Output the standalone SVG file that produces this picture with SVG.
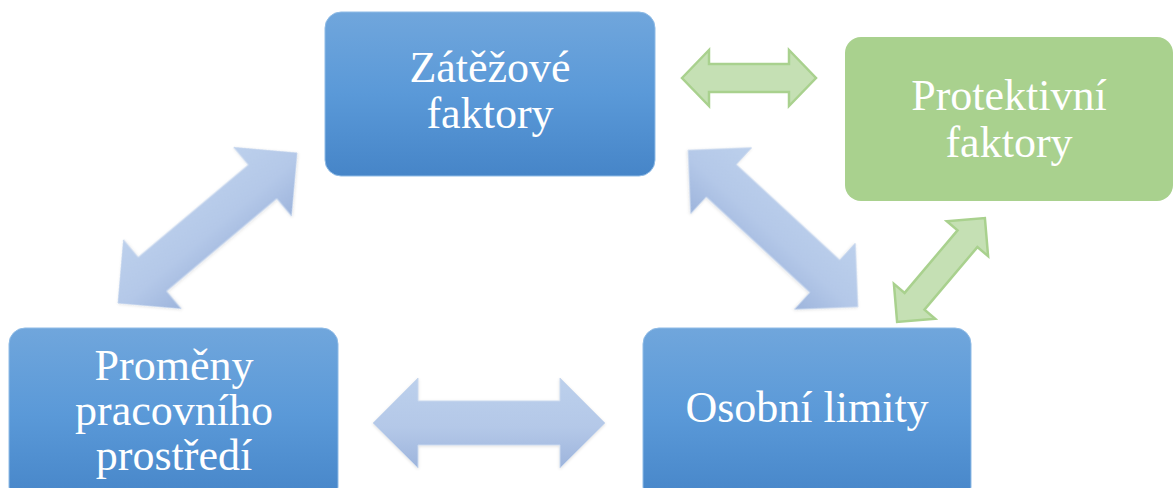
<svg xmlns="http://www.w3.org/2000/svg" width="1175" height="488" viewBox="0 0 1175 488">
<defs>
<linearGradient id="boxBlue" x1="0" y1="0" x2="0" y2="1">
<stop offset="0" stop-color="#70a6dc"/>
<stop offset="0.5" stop-color="#5a99d8"/>
<stop offset="1" stop-color="#4685c8"/>
</linearGradient>
<linearGradient id="arrowBlue" x1="0" y1="0" x2="0" y2="1">
<stop offset="0" stop-color="#bcd0ec"/>
<stop offset="0.55" stop-color="#b4c8e8"/>
<stop offset="1" stop-color="#9db4dc"/>
</linearGradient>
<filter id="soft" x="-10%" y="-10%" width="120%" height="120%">
<feGaussianBlur in="SourceAlpha" stdDeviation="1.5"/>
<feOffset dx="0" dy="1" result="b"/>
<feFlood flood-color="#000" flood-opacity="0.12"/>
<feComposite in2="b" operator="in"/>
<feMerge><feMergeNode/><feMergeNode in="SourceGraphic"/></feMerge>
</filter>
</defs>
<style>
.blue{fill:url(#boxBlue);stroke:#8fbbe6;stroke-width:1}
.green{fill:#a9d18e}
.lbl{font-family:"Liberation Serif",Tinos,"Times New Roman",Times,"Nimbus Roman","Noto Serif","DejaVu Serif",FreeSerif,serif;font-size:44px;fill:#ffffff;text-anchor:middle}
.barrow{fill:url(#arrowBlue);stroke:#c9d8ee;stroke-width:1}
.garrow{fill:#c5e0b4;stroke:#a9d18e;stroke-width:2.5;stroke-linejoin:miter}
</style>
<rect width="1175" height="488" fill="#ffffff"/>
<g id="connectors">
<polygon class="garrow" points="-67,0 -40,-28 -40,-14 40,-14 40,-28 67,0 40,28 40,14 -40,14 -40,28" transform="translate(749,78)"/>
<polygon class="garrow" points="-68,0 -41,-27 -41,-13 41,-13 41,-27 68,0 41,27 41,13 -41,13 -41,27" transform="translate(941,270) rotate(-49.8)"/>
<polygon class="barrow" filter="url(#soft)" points="-116,0 -71,-45 -71,-22 71,-22 71,-45 116,0 71,45 71,22 -71,22 -71,45" transform="translate(489,423)"/>
<polygon class="barrow" filter="url(#soft)" points="-117,0 -72,-45 -72,-22 72,-22 72,-45 117,0 72,45 72,22 -72,22 -72,45" transform="translate(207.5,228) rotate(-40)"/>
<polygon class="barrow" filter="url(#soft)" points="-115.5,0 -70.5,-45 -70.5,-22 70.5,-22 70.5,-45 115.5,0 70.5,45 70.5,22 -70.5,22 -70.5,45" transform="translate(773,228.5) rotate(42.7)"/>
</g>
<g id="node-zatezove">
<rect class="blue" x="325" y="12" width="330" height="164" rx="16"/>
<text class="lbl" x="490" y="82">Zátěžové</text>
<text class="lbl" x="490" y="128">faktory</text>
</g>
<g id="node-protektivni">
<rect class="green" x="845" y="37" width="328" height="164" rx="16"/>
<text class="lbl" x="1009" y="110">Protektivní</text>
<text class="lbl" x="1009" y="157">faktory</text>
</g>
<g id="node-promeny">
<rect class="blue" x="9" y="328" width="329" height="175" rx="16"/>
<text class="lbl" x="174" y="380">Proměny</text>
<text class="lbl" x="174" y="425">pracovního</text>
<text class="lbl" x="174" y="470">prostředí</text>
</g>
<g id="node-osobni">
<rect class="blue" x="643" y="328" width="328" height="175" rx="16"/>
<text class="lbl" x="807" y="422">Osobní limity</text>
</g>
</svg>
